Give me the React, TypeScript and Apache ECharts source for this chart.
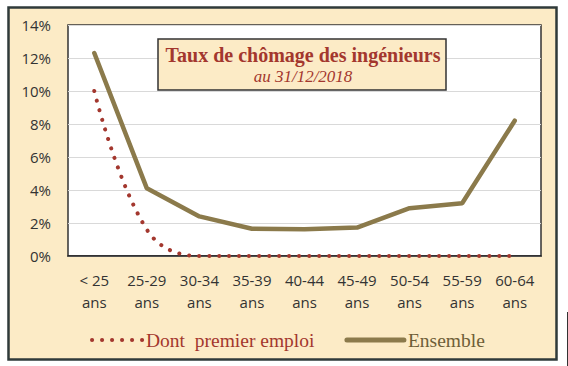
import React, { useEffect, useRef } from "react";
import * as echarts from "echarts";

const categories = [
  "< 25\nans",
  "25-29\nans",
  "30-34\nans",
  "35-39\nans",
  "40-44\nans",
  "45-49\nans",
  "50-54\nans",
  "55-59\nans",
  "60-64\nans",
];
const premierEmploi = [10.0, 1.6, 0, 0, 0, 0, 0, 0, 0];
const ensemble = [12.3, 4.1, 2.4, 1.65, 1.62, 1.72, 2.9, 3.2, 8.2];
const yTicks = { min: 0, max: 14, interval: 2 };

const BG = "#FCEBC6";
const RED = "#A3372E";
const OLIVE = "#8B7A4B";
const DOTS = { color: RED, width: 4, type: [0.1, 9.9], cap: "round" };
const SOLID = { color: OLIVE, width: 4.5, cap: "round" };

export default function App() {
  const ref = useRef<HTMLDivElement>(null);
  useEffect(() => {
    if (!ref.current) return;
    const chart = echarts.init(ref.current, undefined, { renderer: "svg" });
    chart.setOption({
      animation: false,
      backgroundColor: "#ffffff",
      title: {
        text: "Taux de chômage des ingénieurs",
        subtext: "au 31/12/2018",
        left: 303,
        top: 45,
        textAlign: "center",
        itemGap: 3,
        padding: 0,
        z: 8,
        textStyle: {
          fontFamily: "Liberation Serif",
          fontWeight: "bold",
          fontSize: 20,
          color: RED,
        },
        subtextStyle: {
          fontFamily: "Liberation Serif",
          fontStyle: "italic",
          fontSize: 17,
          color: RED,
        },
      },
      graphic: [
        {
          type: "rect",
          z: -100,
          shape: { x: 8.5, y: 7.5, width: 548, height: 352 },
          style: { fill: BG, stroke: "#2F3A3A", lineWidth: 2.5 },
        },
        {
          type: "rect",
          z: 5,
          shape: { x: 158, y: 39, width: 288, height: 51 },
          style: { fill: BG, stroke: "#333", lineWidth: 1.5 },
        },
        {
          type: "line",
          z: 5,
          shape: { x1: 567.5, y1: 312, x2: 567.5, y2: 366 },
          style: { stroke: "#333", lineWidth: 1 },
        },
      ],
      legend: {
        left: 85,
        top: 325,
        itemWidth: 57,
        itemHeight: 14,
        itemGap: 30,
        itemStyle: { opacity: 0 },
        textStyle: { fontFamily: "Liberation Serif", fontSize: 19.5 },
        data: [
          {
            name: "Dont  premier emploi",
            textStyle: { color: RED, padding: [0, 0, 0, -8] },
            lineStyle: DOTS,
          },
          {
            name: "Ensemble",
            textStyle: { color: "#6E5E38", padding: [0, 0, 0, -1] },
            lineStyle: { ...SOLID, width: 5 },
          },
        ],
      },
      grid: {
        left: 68,
        top: 25,
        right: 27,
        bottom: 110,
        show: true,
        backgroundColor: "#ffffff",
        borderColor: "#333",
        borderWidth: 1.5,
      },
      xAxis: {
        type: "category",
        data: categories,
        boundaryGap: true,
        axisLine: { lineStyle: { color: "#222", width: 1.5 } },
        axisTick: { show: false },
        axisLabel: {
          fontFamily: "Open Sans",
          fontSize: 15,
          lineHeight: 22,
          color: "#333",
          margin: 13,
          interval: 0,
        },
      },
      yAxis: {
        type: "value",
        min: yTicks.min,
        max: yTicks.max,
        interval: yTicks.interval,
        axisLine: { show: false },
        axisTick: { show: false },
        splitLine: { lineStyle: { color: "#D9D9D9", width: 1.2 } },
        axisLabel: {
          formatter: "{value}%",
          fontFamily: "Open Sans",
          fontSize: 15,
          color: "#333",
          margin: 17,
        },
      },
      series: [
        {
          name: "Dont  premier emploi",
          type: "line",
          data: premierEmploi,
          smooth: 0.4,
          symbol: "none",
          z: 3,
          itemStyle: { color: RED },
          lineStyle: DOTS,
        },
        {
          name: "Ensemble",
          type: "line",
          data: ensemble,
          symbol: "none",
          z: 2,
          itemStyle: { color: OLIVE },
          lineStyle: SOLID,
        },
      ],
    });
    return () => chart.dispose();
  }, []);
  return (
    <div
      ref={ref}
      style={{ position: "absolute", left: 0, top: 0, width: 568, height: 366 }}
    />
  );
}
